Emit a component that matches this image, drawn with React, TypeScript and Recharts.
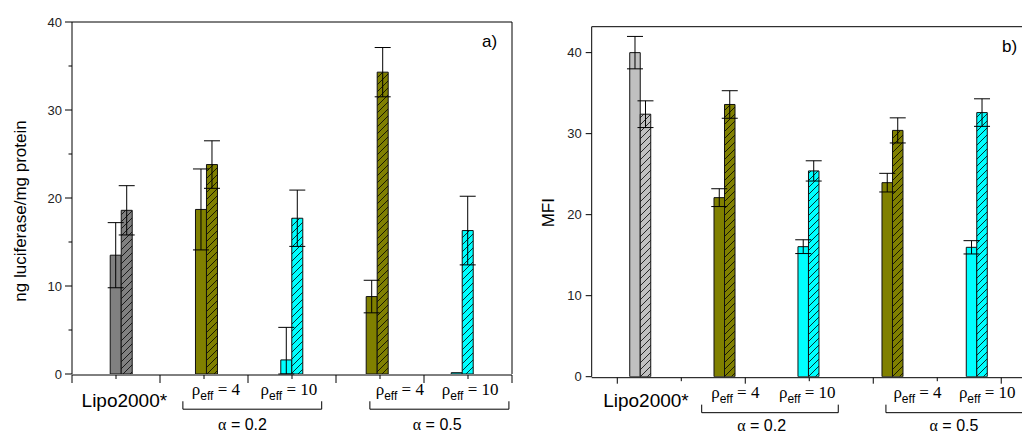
import React from 'react'
import { ComposedChart, Bar, Cell, ErrorBar, XAxis, YAxis, ReferenceLine } from 'recharts'

const SANS = '"Liberation Sans", Arial, Helvetica, sans-serif'
const SERIF = '"Liberation Serif", "Times New Roman", serif'

// groups (same order in both panels)
const groups = ['Lipo2000*', 'a0.2-r4', 'a0.2-r10', 'a0.5-r4', 'a0.5-r10']
const lucColors = ['#808080', '#808000', '#00ffff', '#808000', '#00ffff']
const mfiColors = ['#c0c0c0', '#808000', '#00ffff', '#808000', '#00ffff']

// a) ng luciferase / mg protein
const lucPos = [1.107, 3.045, 4.984, 6.925, 8.857]
const lucSolid = [13.5, 18.7, 1.6, 8.8, 0.15]
const lucSolidErr: (number | number[])[] = [3.7, 4.6, [1.6, 3.7], 1.85, 0]
const lucHatch = [18.6, 23.8, 17.7, 34.3, 16.3]
const lucHatchErr = [2.8, 2.7, 3.2, 2.8, 3.9]

// b) MFI
const mfiPos = [0.366, 1.683, 2.995, 4.308, 5.625]
const mfiSolid = [40.0, 22.1, 16.05, 23.95, 15.97]
const mfiSolidErr = [2.0, 1.1, 0.85, 1.15, 0.82]
const mfiHatch = [32.4, 33.6, 25.4, 30.4, 32.6]
const mfiHatchErr = [1.65, 1.7, 1.25, 1.55, 1.7]

// group labels under the x axis
const refLabel = 'Lipo2000*'
const rhoLabels = ['4', '10', '4', '10']
const alphaLabels = ['0.2', '0.5']

const lucRefAt = 1.19
const lucRhoAt = [3.27, 4.93, 7.45, 9.05]
const lucAlphaAt = [3.875, 8.3]
const lucBrackets = [[2.52, 5.675], [6.77, 9.93]]

const mfiRefAt = 0.448
const mfiRhoAt = [1.844, 2.969, 4.691, 5.781]
const mfiAlphaAt = [2.256, 5.261]
const mfiBrackets = [[1.319, 3.453], [4.198, 6.5]]

// axis ticks
const lucXTicks = [0, 1, 2, 3, 4, 5, 6, 7, 8, 9, 10]
const lucTopTicks = [1, 2, 3, 4, 5, 6, 7, 8, 9]
const lucYTicks = [0, 5, 10, 15, 20, 25, 30, 35, 40]
const lucRightTicks = [0, 4, 8, 12, 16, 20, 24, 28, 32, 36, 40]
const mfiXTicks = [0, 1, 2, 3, 4, 5, 6]
const mfiTopTicks = [0.28, 0.95, 1.63, 2.31, 2.99, 3.66, 4.34, 5.02, 5.69]
const mfiYTicks = [0, 10, 20, 30, 40]

interface Row {
  name: string
  x: number
  solid: number
  solidErr: number | number[]
  hatch: number
  hatchErr: number
  color: string
}

interface LabelItem {
  at: number
  kind: 'ref' | 'rho' | 'alpha'
  text: string
}

function buildRows(
  pos: number[],
  solid: number[],
  solidErr: (number | number[])[],
  hatch: number[],
  hatchErr: number[],
  colors: string[]
): Row[] {
  return groups.map((name, i) => ({
    name,
    x: pos[i],
    solid: solid[i],
    solidErr: solidErr[i],
    hatch: hatch[i],
    hatchErr: hatchErr[i],
    color: colors[i],
  }))
}

function buildLabels(refAt: number, rhoAt: number[], alphaAt: number[]): LabelItem[] {
  const items: LabelItem[] = [
    { at: refAt, kind: 'ref', text: refLabel },
    ...rhoAt.map((at, i) => ({ at, kind: 'rho' as const, text: rhoLabels[i] })),
    ...alphaAt.map((at, i) => ({ at, kind: 'alpha' as const, text: alphaLabels[i] })),
  ]
  return items.sort((a, b) => a.at - b.at)
}

function makeYTick(major: number, majorLen: number, minorLen: number) {
  // eslint-disable-next-line @typescript-eslint/no-explicit-any
  return function YTick({ x, y, payload }: any) {
    const v = payload.value as number
    const isMajor = v % major === 0
    return (
      <g>
        <line x1={x} x2={x - (isMajor ? majorLen : minorLen)} y1={y} y2={y} stroke="#000" />
        {isMajor && (
          <text x={x - 10} y={y} dy="0.36em" textAnchor="end" fontSize={13} fontFamily={SANS} fill="#222">
            {v}
          </text>
        )}
      </g>
    )
  }
}

function makeXTick(majorLen: number, minorLen: number) {
  // eslint-disable-next-line @typescript-eslint/no-explicit-any
  return function XTick({ x, y, payload }: any) {
    const v = payload.value as number
    const len = v % 2 === 0 ? majorLen : minorLen
    return <line x1={x} x2={x} y1={y} y2={y + len} stroke="#000" />
  }
}

function makeLabelTick(items: LabelItem[], dy: { ref: number; rho: number; alpha: number }) {
  // eslint-disable-next-line @typescript-eslint/no-explicit-any
  return function LabelTick({ x, y, payload }: any) {
    const item = items.find(it => Math.abs(it.at - payload.value) < 1e-6)
    if (!item) return null
    if (item.kind === 'ref') {
      return (
        <text x={x} y={y + dy.ref} textAnchor="middle" fontSize={19} fontFamily={SANS} fill="#000">
          {item.text}
        </text>
      )
    }
    if (item.kind === 'rho') {
      return (
        <text x={x} y={y + dy.rho} textAnchor="middle" fontSize={17} fontFamily={SERIF} fill="#000">
          <tspan>ρ</tspan>
          <tspan fontFamily={SANS} fontSize={12} dy={5}>eff</tspan>
          <tspan dy={-5}>{' = ' + item.text}</tspan>
        </text>
      )
    }
    return (
      <text x={x} y={y + dy.alpha} textAnchor="middle" fontSize={16} fontFamily={SANS} fill="#000">
        <tspan fontFamily={SERIF}>α</tspan>
        {' = ' + item.text}
      </text>
    )
  }
}

interface PanelProps {
  id: string
  rows: Row[]
  labels: LabelItem[]
  brackets: number[][]
  bracketY: number
  bracketTop: number
  labelDy: { ref: number; rho: number; alpha: number }
  width: number
  height: number
  margin: { top: number; right: number; bottom: number; left: number }
  xDomain: [number, number]
  xTicks: number[]
  topTicks: number[]
  topTickColor: string
  xMajorLen: number
  xMinorLen: number
  yDomain: [number, number]
  yTicks: number[]
  yMajor: number
  yMajorLen: number
  yMinorLen: number
  rightTicks?: number[]
  yTitle: string
  yTitleDx: number
  yTitleDy: number
  tag: string
  tagDx: number
  barSize: number
}

function Panel(p: PanelProps) {
  const colors = Array.from(new Set(p.rows.map(r => r.color)))
  const hatchId = (c: string) => `${p.id}-hatch-${c.slice(1)}`

  // axes get a 1px size (a 0px axis is not drawn); the margins make up for it
  return (
    <ComposedChart width={p.width} height={p.height} data={p.rows} margin={p.margin} barGap={0}>
      <defs>
        {colors.map(c => (
          <pattern key={c} id={hatchId(c)} patternUnits="userSpaceOnUse" width={7} height={7}>
            <rect width={7} height={7} fill={c} />
            <path d="M-1,8 L8,-1 M-1,1 L1,-1 M6,8 L8,6" stroke="#000" strokeWidth={0.8} />
          </pattern>
        ))}
      </defs>

      <XAxis
        xAxisId="main"
        dataKey="x"
        type="number"
        domain={p.xDomain}
        allowDataOverflow
        ticks={p.xTicks}
        interval={0}
        height={1}
        tickSize={0}
        tickMargin={0}
        tickLine={false}
        axisLine={{ stroke: '#000' }}
        tick={makeXTick(p.xMajorLen, p.xMinorLen)}
      />
      <XAxis
        xAxisId="labels"
        dataKey="x"
        type="number"
        domain={p.xDomain}
        allowDataOverflow
        ticks={p.labels.map(l => l.at)}
        interval={0}
        height={1}
        tickSize={0}
        tickMargin={0}
        tickLine={false}
        axisLine={false}
        tick={makeLabelTick(p.labels, p.labelDy)}
      />
      <XAxis
        xAxisId="top"
        dataKey="x"
        orientation="top"
        type="number"
        domain={p.xDomain}
        allowDataOverflow
        ticks={p.topTicks}
        interval={0}
        height={1}
        tickSize={2}
        tick={false}
        tickLine={{ stroke: p.topTickColor }}
        axisLine={{ stroke: '#000' }}
        label={(lp: any) => {
          const vb = lp.viewBox || lp
          return (
            <text x={vb.x + vb.width + p.tagDx} y={vb.y + vb.height + 25} fontSize={17} fontFamily={SANS} fill="#000">
              {p.tag}
            </text>
          )
        }}
      />
      <YAxis
        yAxisId="main"
        type="number"
        domain={p.yDomain}
        allowDataOverflow
        ticks={p.yTicks}
        interval={0}
        width={1}
        tickSize={0}
        tickMargin={0}
        tickLine={false}
        axisLine={{ stroke: '#000' }}
        tick={makeYTick(p.yMajor, p.yMajorLen, p.yMinorLen)}
        label={(lp: any) => {
          const vb = lp.viewBox || lp
          const cx = vb.x + vb.width + p.yTitleDx
          const cy = vb.y + vb.height / 2 + p.yTitleDy
          return (
            <text
              x={cx}
              y={cy}
              transform={`rotate(-90 ${cx} ${cy})`}
              textAnchor="middle"
              dy="0.36em"
              fontSize={17}
              fontFamily={SANS}
              fill="#000"
            >
              {p.yTitle}
            </text>
          )
        }}
      />
      <YAxis
        yAxisId="right"
        orientation="right"
        mirror
        type="number"
        domain={p.yDomain}
        allowDataOverflow
        ticks={p.rightTicks ?? []}
        interval={0}
        width={1}
        tickSize={3}
        tick={false}
        tickLine={{ stroke: '#000' }}
        axisLine={{ stroke: '#000' }}
      />

      <Bar
        xAxisId="main"
        yAxisId="main"
        dataKey="solid"
        barSize={p.barSize}
        stroke="#111"
        strokeWidth={1}
        isAnimationActive={false}
      >
        {p.rows.map(r => (
          <Cell key={r.name} fill={r.color} />
        ))}
        <ErrorBar dataKey="solidErr" direction="y" width={8} stroke="#000" strokeWidth={1} />
      </Bar>
      <Bar
        xAxisId="main"
        yAxisId="main"
        dataKey="hatch"
        barSize={p.barSize}
        stroke="#111"
        strokeWidth={1}
        isAnimationActive={false}
      >
        {p.rows.map(r => (
          <Cell key={r.name} fill={`url(#${hatchId(r.color)})`} />
        ))}
        <ErrorBar dataKey="hatchErr" direction="y" width={8} stroke="#000" strokeWidth={1} />
      </Bar>

      {p.brackets.map(([a, b]) => (
        <React.Fragment key={`${a}-${b}`}>
          <ReferenceLine
            xAxisId="main"
            yAxisId="main"
            ifOverflow="visible"
            stroke="#000"
            segment={[{ x: a, y: p.bracketY }, { x: b, y: p.bracketY }]}
          />
          <ReferenceLine
            xAxisId="main"
            yAxisId="main"
            ifOverflow="visible"
            stroke="#000"
            segment={[{ x: a, y: p.bracketY }, { x: a, y: p.bracketTop }]}
          />
          <ReferenceLine
            xAxisId="main"
            yAxisId="main"
            ifOverflow="visible"
            stroke="#000"
            segment={[{ x: b, y: p.bracketY }, { x: b, y: p.bracketTop }]}
          />
        </React.Fragment>
      ))}
    </ComposedChart>
  )
}

export default function App() {
  const lucRows = buildRows(lucPos, lucSolid, lucSolidErr, lucHatch, lucHatchErr, lucColors)
  const mfiRows = buildRows(mfiPos, mfiSolid, mfiSolidErr, mfiHatch, mfiHatchErr, mfiColors)

  return (
    <div style={{ position: 'absolute', left: 0, top: 0, width: 1022, height: 433, overflow: 'hidden', background: '#fff' }}>
      <div style={{ position: 'absolute', left: 0, top: 0 }}>
        <Panel
          id="luc"
          rows={lucRows}
          labels={buildLabels(lucRefAt, lucRhoAt, lucAlphaAt)}
          brackets={lucBrackets}
          bracketY={-4.0}
          bracketTop={-3.1}
          labelDy={{ ref: 33, rho: 21, alpha: 56 }}
          width={520}
          height={433}
          margin={{ top: 21, right: 8, bottom: 57, left: 71 }}
          xDomain={[0, 10]}
          xTicks={lucXTicks}
          topTicks={lucTopTicks}
          topTickColor="#999"
          xMajorLen={8}
          xMinorLen={4}
          yDomain={[0, 40]}
          yTicks={lucYTicks}
          yMajor={10}
          yMajorLen={7}
          yMinorLen={3.5}
          rightTicks={lucRightTicks}
          yTitle="ng luciferase/mg protein"
          yTitleDx={-52}
          yTitleDy={13}
          tag="a)"
          tagDx={-30}
          barSize={11}
        />
      </div>
      <div style={{ position: 'absolute', left: 520, top: 0 }}>
        <Panel
          id="mfi"
          rows={mfiRows}
          labels={buildLabels(mfiRefAt, mfiRhoAt, mfiAlphaAt)}
          brackets={mfiBrackets}
          bracketY={-4.44}
          bracketTop={-3.45}
          labelDy={{ ref: 30.5, rho: 21.5, alpha: 54.5 }}
          width={510}
          height={433}
          margin={{ top: 25.7, right: 7, bottom: 54.3, left: 70.7 }}
          xDomain={[-0.4, 6.34]}
          xTicks={mfiXTicks}
          topTicks={mfiTopTicks}
          topTickColor="#333"
          xMajorLen={6}
          xMinorLen={3.5}
          yDomain={[0, 43.2]}
          yTicks={mfiYTicks}
          yMajor={10}
          yMajorLen={6}
          yMinorLen={3}
          yTitle="MFI"
          yTitleDx={-43.7}
          yTitleDy={11}
          tag="b)"
          tagDx={-21}
          barSize={10.5}
        />
      </div>
    </div>
  )
}
